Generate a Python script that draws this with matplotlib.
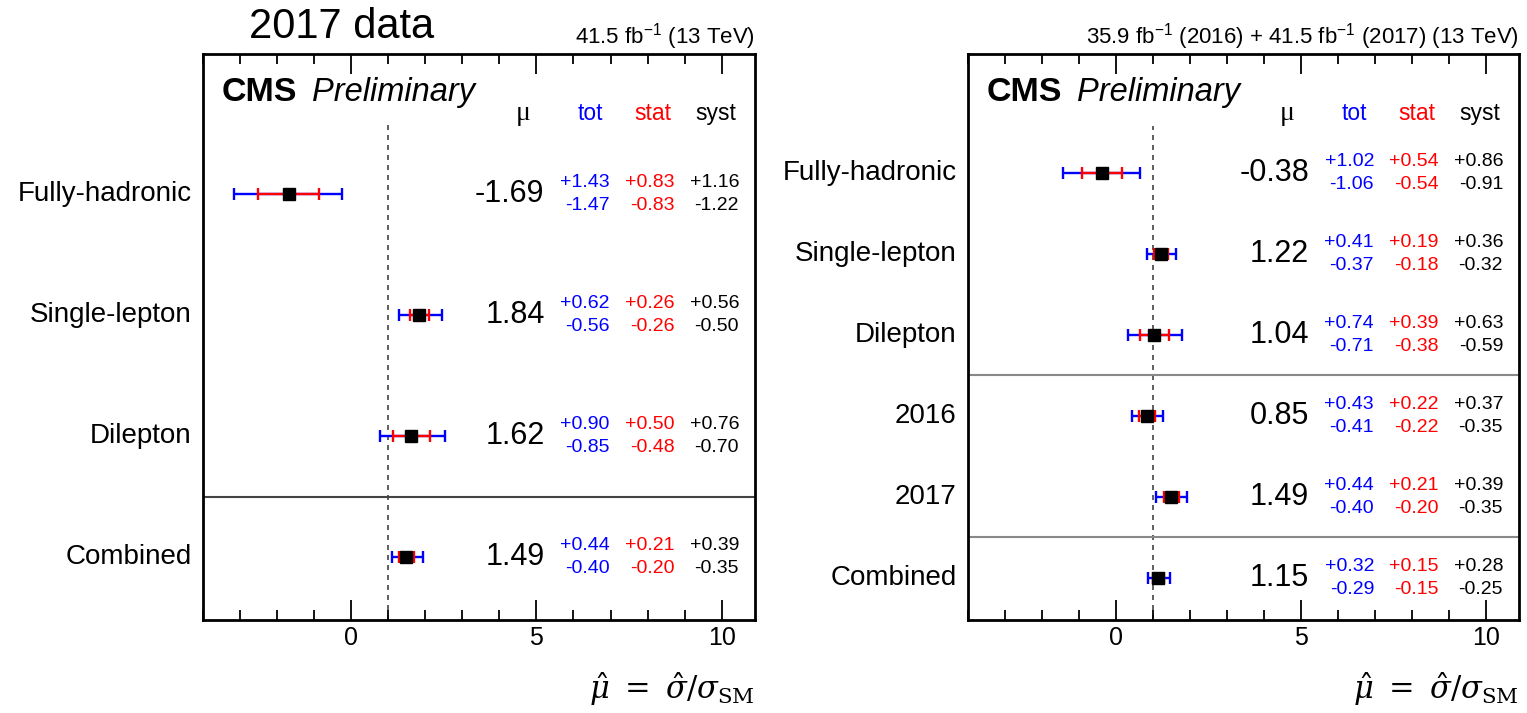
import matplotlib
matplotlib.use('Agg')
import matplotlib.pyplot as plt
import matplotlib.transforms as mtransforms
from matplotlib.ticker import MultipleLocator

plt.rcParams['font.family'] = ['Liberation Sans', 'DejaVu Sans']
plt.rcParams['mathtext.fontset'] = 'custom'
plt.rcParams['mathtext.rm'] = 'Liberation Sans'
plt.rcParams['mathtext.it'] = 'Liberation Sans:italic'

# 2017 data alone
labels_17 = ["Fully-hadronic", "Single-lepton", "Dilepton", "Combined"]
mu_17 = [-1.69, 1.84, 1.62, 1.49]
tot_up_17 = [1.43, 0.62, 0.90, 0.44]
tot_dn_17 = [1.47, 0.56, 0.85, 0.40]
stat_up_17 = [0.83, 0.26, 0.50, 0.21]
stat_dn_17 = [0.83, 0.26, 0.48, 0.20]
syst_up_17 = [1.16, 0.56, 0.76, 0.39]
syst_dn_17 = [1.22, 0.50, 0.70, 0.35]

# 2016 + 2017 combination
labels_comb = ["Fully-hadronic", "Single-lepton", "Dilepton", "2016", "2017", "Combined"]
mu_comb = [-0.38, 1.22, 1.04, 0.85, 1.49, 1.15]
tot_up_comb = [1.02, 0.41, 0.74, 0.43, 0.44, 0.32]
tot_dn_comb = [1.06, 0.37, 0.71, 0.41, 0.40, 0.29]
stat_up_comb = [0.54, 0.19, 0.39, 0.22, 0.21, 0.15]
stat_dn_comb = [0.54, 0.18, 0.38, 0.22, 0.20, 0.15]
syst_up_comb = [0.86, 0.36, 0.63, 0.37, 0.39, 0.28]
syst_dn_comb = [0.91, 0.32, 0.59, 0.35, 0.35, 0.25]

W, H = 1527, 713
fig = plt.figure(figsize=(W / 100, H / 100), dpi=100)


def px_axes(x0, x1, ytop, ybot):
    return fig.add_axes([x0 / W, 1 - ybot / H, (x1 - x0) / W, (ybot - ytop) / H])


def draw_panel(ax, labels, mu, tu, td, su, sd, yu, yd, ylim, seps, sep_color, lumi):
    n = len(labels)
    ys = [n - 1 - i for i in range(n)]
    ax.set_xlim(-4, 10.9)
    ax.set_ylim(*ylim)

    # SM expectation
    ax.plot([1, 1], [ylim[0], n - 0.42], ls=(0, (3, 3)), color='#444444', lw=1.2, zorder=1)
    for s in seps:
        ax.axhline(s, color=sep_color, lw=1.5, zorder=1)

    ax.errorbar(mu, ys, xerr=[td, tu], fmt='none', ecolor='blue',
                elinewidth=1.7, capsize=4.5, capthick=1.7, zorder=3)
    ax.errorbar(mu, ys, xerr=[sd, su], fmt='none', ecolor='red',
                elinewidth=1.7, capsize=4.5, capthick=1.7, zorder=4)
    ax.plot(mu, ys, 's', color='black', ms=9, zorder=5)

    up = mtransforms.offset_copy(ax.transData, fig=fig, y=8, units='points')
    dn = mtransforms.offset_copy(ax.transData, fig=fig, y=-8, units='points')
    ylab = ax.get_yaxis_transform()
    for i, y in enumerate(ys):
        ax.text(-0.021, y, labels[i], transform=ylab, ha='right', va='center', fontsize=20)
        ax.text(5.22, y, f"{mu[i]:.2f}", ha='right', va='center', fontsize=22)
        for xr, a, b, c in [(6.98, tu, td, 'blue'), (8.73, su, sd, 'red'), (10.47, yu, yd, 'black')]:
            ax.text(xr, y, f"+{a[i]:.2f}", transform=up, ha='right', va='center', fontsize=14, color=c)
            ax.text(xr, y, f"-{b[i]:.2f}", transform=dn, ha='right', va='center', fontsize=14, color=c)

    hy = 0.895
    hx = ax.get_xaxis_transform()
    ax.text(4.64, hy, "μ", transform=hx, ha='center', va='center', fontsize=20, family='Liberation Serif')
    ax.text(6.45, hy, "tot", transform=hx, ha='center', va='center', fontsize=16.5, color='blue')
    ax.text(8.14, hy, "stat", transform=hx, ha='center', va='center', fontsize=16.5, color='red')
    ax.text(9.85, hy, "syst", transform=hx, ha='center', va='center', fontsize=16.5)

    ax.text(0.034, 0.932, "CMS", transform=ax.transAxes, ha='left', va='center',
            fontsize=24.5, fontweight='bold')
    ax.text(0.197, 0.932, "Preliminary", transform=ax.transAxes, ha='left', va='center',
            fontsize=23.5, style='italic')

    ax.text(1.0, 1.004, lumi, transform=ax.transAxes, ha='right', va='bottom', fontsize=16)
    ax.text(1.0, -0.122, r'$\hat{\mu}\ =\ \hat{\sigma}/\sigma_{\rm SM}$', transform=ax.transAxes,
            ha='right', va='center', fontsize=22, math_fontfamily='dejavuserif')

    ax.xaxis.set_major_locator(MultipleLocator(5))
    ax.xaxis.set_minor_locator(MultipleLocator(1))
    ax.tick_params(axis='x', which='both', direction='in', top=True, bottom=True, width=1.3)
    ax.tick_params(axis='x', which='major', length=14.5, labelsize=18, pad=4)
    ax.tick_params(axis='x', which='minor', length=7)
    ax.set_yticks([])
    for sp in ax.spines.values():
        sp.set_linewidth(2)


ax1 = px_axes(203, 755, 54, 620)
draw_panel(ax1, labels_17, mu_17, tot_up_17, tot_dn_17, stat_up_17, stat_dn_17,
           syst_up_17, syst_dn_17, (-0.52, 4.157), [0.5], '#444444',
           r'41.5 fb$^{-1}$ (13 TeV)')

ax2 = px_axes(968, 1519, 54, 620)
draw_panel(ax2, labels_comb, mu_comb, tot_up_comb, tot_dn_comb, stat_up_comb, stat_dn_comb,
           syst_up_comb, syst_dn_comb, (-0.52, 6.47), [0.5, 2.5], '#888888',
           r'35.9 fb$^{-1}$ (2016) + 41.5 fb$^{-1}$ (2017) (13 TeV)')

fig.text(342 / W, 1 - 27 / H, "2017 data", ha='center', va='center', fontsize=30)

fig.savefig('out.png', dpi=100)
